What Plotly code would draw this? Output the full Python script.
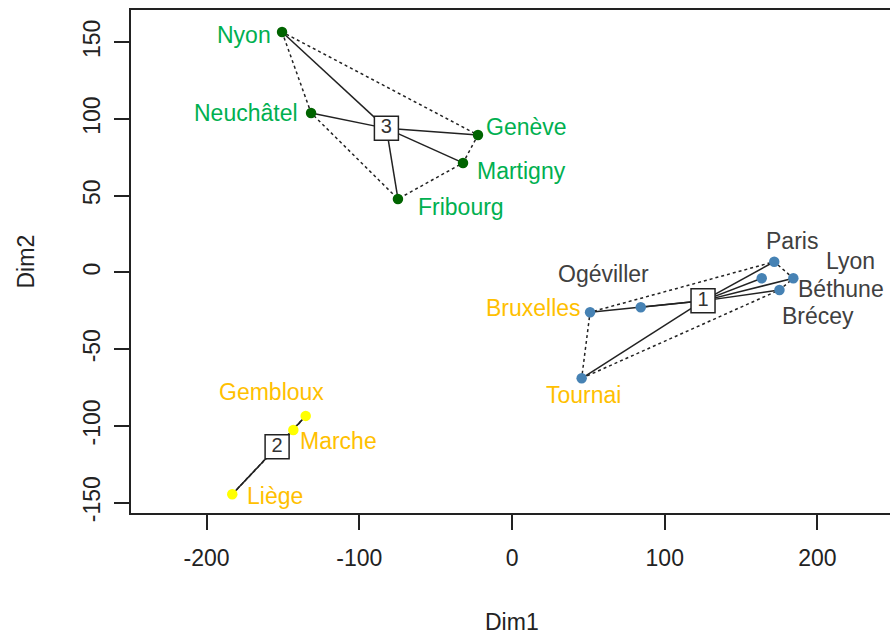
import plotly.graph_objects as go

# ---- data ----
cities = ["Nyon", "Neuchâtel", "Genève", "Martigny", "Fribourg",
          "Paris", "Lyon", "Béthune", "Brécey", "Ogéviller", "Bruxelles", "Tournai",
          "Gembloux", "Marche", "Liège"]
dim1 = [-150.6, -131.6, -22.3, -32.1, -74.7,
        171.7, 184.2, 163.5, 175.1, 84.3, 51.1, 45.6,
        -135.1, -143.2, -183.2]
dim2 = [156.8, 104.0, 89.6, 71.4, 47.9,
        7.0, -3.8, -3.8, -11.4, -22.7, -25.9, -69.0,
        -93.5, -102.7, -144.6]
cluster = [3, 3, 3, 3, 3,
           1, 1, 1, 1, 1, 1, 1,
           2, 2, 2]
country = ["CH", "CH", "CH", "CH", "CH",
           "FR", "FR", "FR", "FR", "FR", "BE", "BE",
           "BE", "BE", "BE"]
x_ticks = [-200, -100, 0, 100, 200]
x_ticklabels = ["-200", "-100", "0", "100", "200"]
y_ticks = [-150, -100, -50, 0, 50, 100, 150]
y_ticklabels = ["-150", "-100", "-50", "0", "50", "100", "150"]

# ---- styles ----
point_color = {1: "#4682B4", 2: "#FFFF00", 3: "#006400"}
label_color = {"CH": "#00B050", "FR": "#404040", "BE": "#FFC000"}
# label placement (pixel offsets from the point; anchor)
label_style = {
    "Nyon": ("right", -9, -3), "Neuchâtel": ("right", -11, 0),
    "Genève": ("left", 6, 8), "Martigny": ("left", 12, -8),
    "Fribourg": ("left", 18, -8),
    "Paris": ("center", 18, 21), "Lyon": ("center", 57, 17),
    "Béthune": ("left", 34, -11), "Brécey": ("center", 39, -26),
    "Ogéviller": ("center", -37, 33), "Bruxelles": ("right", -7, 4),
    "Tournai": ("center", 2, -17),
    "Gembloux": ("center", -34, 24), "Marche": ("left", 5, -11),
    "Liège": ("left", 13, -2),
}
FONT = "Liberation Sans, Arial, sans-serif"
FS = 23


def convex_hull(pts):
    pts = sorted(set(pts))
    if len(pts) < 3:
        return pts
    def cross(o, a, b):
        return (a[0] - o[0]) * (b[1] - o[1]) - (a[1] - o[1]) * (b[0] - o[0])
    lower, upper = [], []
    for p in pts:
        while len(lower) >= 2 and cross(lower[-2], lower[-1], p) <= 0:
            lower.pop()
        lower.append(p)
    for p in reversed(pts):
        while len(upper) >= 2 and cross(upper[-2], upper[-1], p) <= 0:
            upper.pop()
        upper.append(p)
    return lower[:-1] + upper[:-1]


fig = go.Figure()
groups = sorted(set(cluster))
centers = {}
for g in groups:
    idx = [i for i, c in enumerate(cluster) if c == g]
    xs = [dim1[i] for i in idx]
    ys = [dim2[i] for i in idx]
    cx, cy = sum(xs) / len(xs), sum(ys) / len(ys)
    centers[g] = (cx, cy)
    hull = convex_hull(list(zip(xs, ys)))
    hull = hull + [hull[0]]
    fig.add_trace(go.Scatter(x=[p[0] for p in hull], y=[p[1] for p in hull],
                             mode="lines", line=dict(color="#222", width=1.5, dash="3px,3px"),
                             hoverinfo="skip", showlegend=False))
    lx, ly = [], []
    for x, y in zip(xs, ys):
        lx += [cx, x, None]
        ly += [cy, y, None]
    fig.add_trace(go.Scatter(x=lx, y=ly, mode="lines",
                             line=dict(color="#222", width=1.5),
                             hoverinfo="skip", showlegend=False))

for g in groups:
    idx = [i for i, c in enumerate(cluster) if c == g]
    fig.add_trace(go.Scatter(x=[dim1[i] for i in idx], y=[dim2[i] for i in idx],
                             mode="markers",
                             marker=dict(color=point_color[g], size=10.5, line=dict(width=0)),
                             text=[cities[i] for i in idx], showlegend=False))

for g in groups:
    cx, cy = centers[g]
    fig.add_trace(go.Scatter(x=[cx], y=[cy], mode="markers+text", text=[str(g)],
                             textposition="middle center",
                             textfont=dict(family=FONT, size=20, color="#333"),
                             marker=dict(symbol="square", size=24, color="white",
                                         line=dict(color="#222", width=1.5)),
                             showlegend=False))

for i, name in enumerate(cities):
    anchor, dx, dy = label_style[name]
    fig.add_annotation(x=dim1[i], y=dim2[i], xref="x", yref="y", text=name,
                       showarrow=False, xanchor=anchor, yanchor="middle",
                       xshift=dx, yshift=dy,
                       font=dict(family=FONT, size=FS, color=label_color[country[i]]))

fig.add_annotation(text="Dim1", xref="paper", yref="paper", x=0.502, y=0,
                   xanchor="center", yanchor="middle", yshift=-109, showarrow=False,
                   font=dict(family=FONT, size=FS, color="#222"))
fig.add_annotation(text="Dim2", xref="paper", yref="paper", x=0, y=0.5,
                   xanchor="center", yanchor="middle", xshift=-106, textangle=-90,
                   showarrow=False, font=dict(family=FONT, size=FS, color="#222"))

fig.update_layout(
    width=890, height=636,
    margin=dict(l=131, r=0, t=10, b=123),
    paper_bgcolor="white", plot_bgcolor="white",
    font=dict(family=FONT, size=FS, color="#222"),
    xaxis=dict(range=[-249.5, 247.5], tickvals=x_ticks, ticktext=x_ticklabels,
               ticks="outside", ticklen=15,
               tickwidth=1.5, tickcolor="#222", showline=True, linecolor="#222",
               linewidth=1.5, mirror=True, showgrid=False, zeroline=False,
               ticklabelstandoff=9, tickfont=dict(size=FS, color="#222")),
    yaxis=dict(range=[-156.8, 171.1], tickvals=y_ticks, ticktext=y_ticklabels,
               ticks="outside", ticklen=15,
               tickwidth=1.5, tickcolor="#222", showline=True, linecolor="#222",
               linewidth=1.5, mirror=False, showgrid=False, zeroline=False,
               tickangle=-90, ticklabelstandoff=5, tickfont=dict(size=FS, color="#222")),
)

fig.write_html("out.html", config={"displayModeBar": False})
